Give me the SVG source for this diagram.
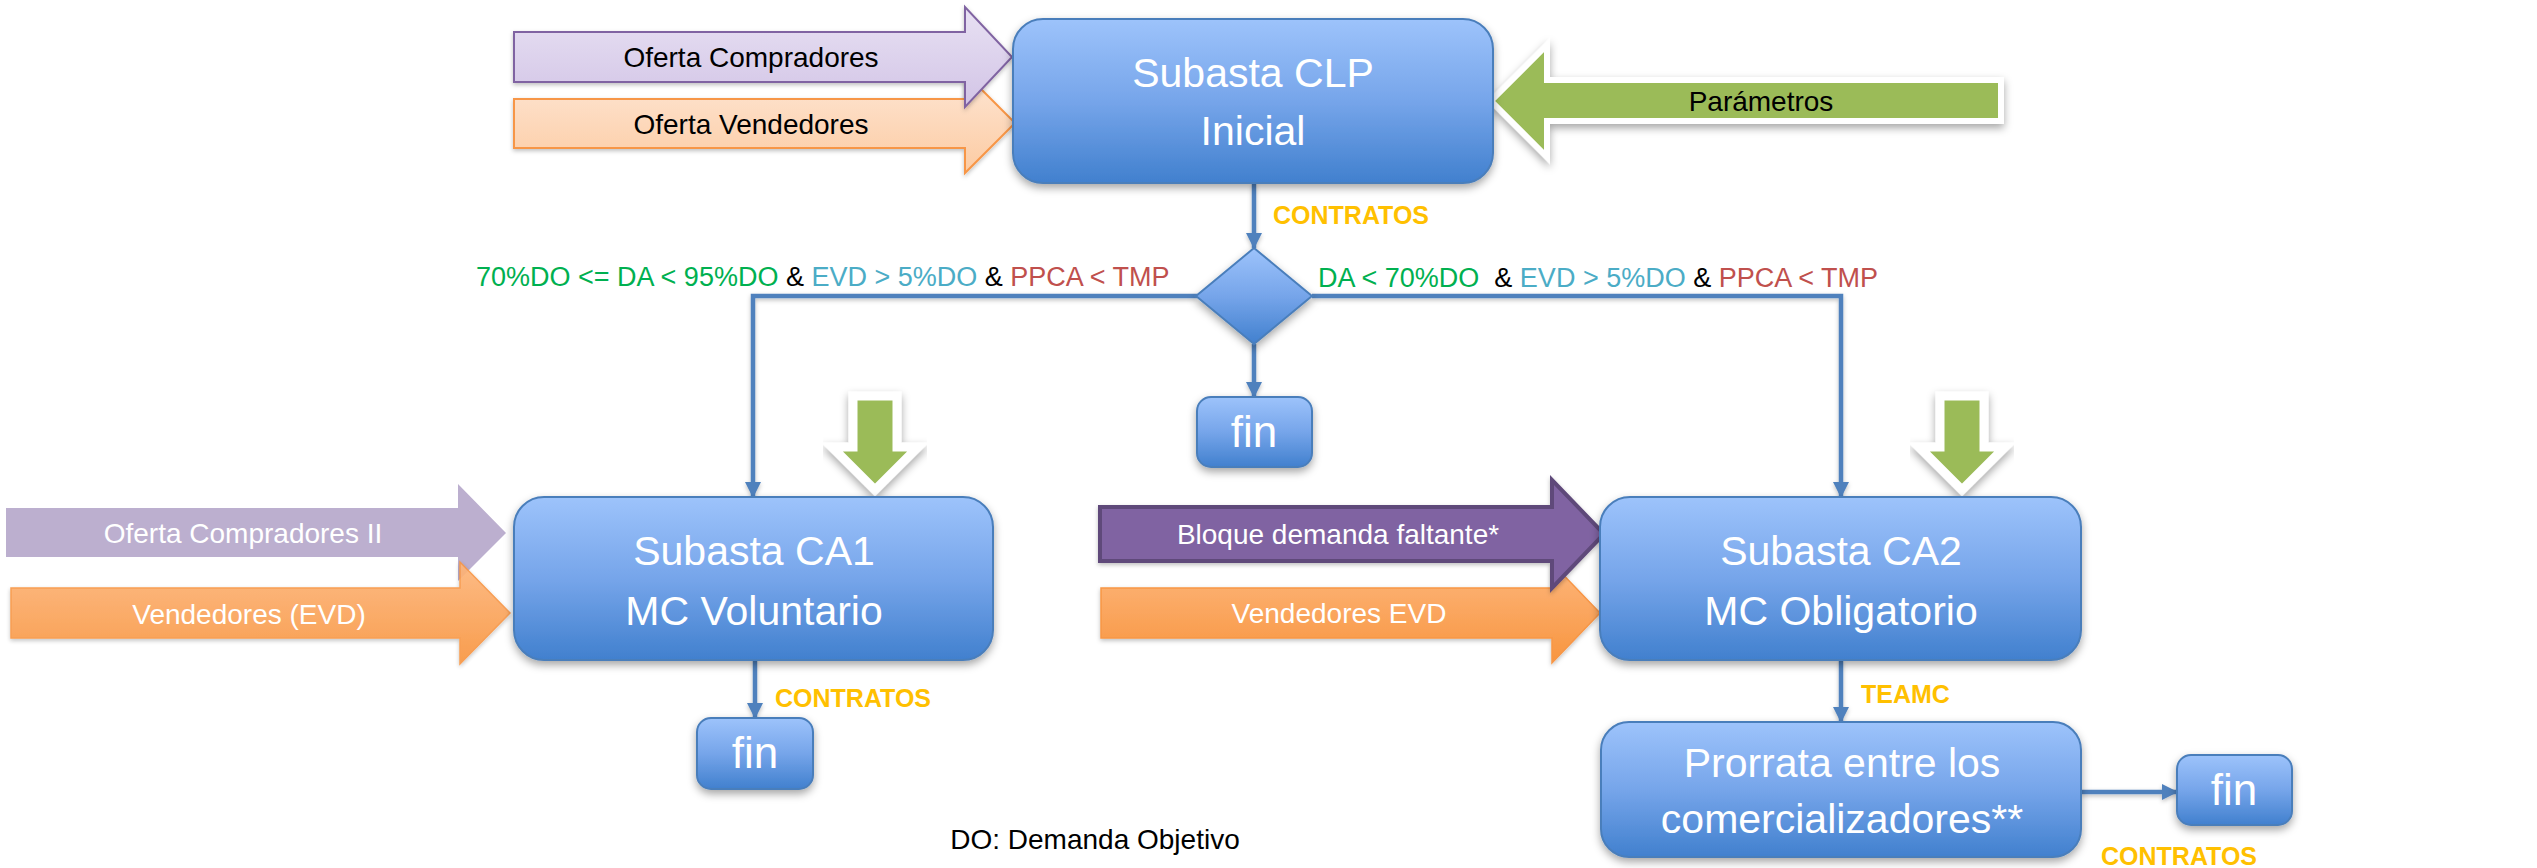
<svg xmlns="http://www.w3.org/2000/svg" width="2537" height="868" viewBox="0 0 2537 868">
<defs>
  <linearGradient id="boxGrad" x1="0" y1="0" x2="0" y2="1">
    <stop offset="0" stop-color="#9DC3FB"/>
    <stop offset="0.5" stop-color="#76A5EA"/>
    <stop offset="1" stop-color="#4180CE"/>
  </linearGradient>
  <linearGradient id="lavGrad" x1="0" y1="0" x2="0" y2="1">
    <stop offset="0" stop-color="#E8E1F3"/>
    <stop offset="1" stop-color="#D2C4E6"/>
  </linearGradient>
  <linearGradient id="peachGrad" x1="0" y1="0" x2="0" y2="1">
    <stop offset="0" stop-color="#FEE6D4"/>
    <stop offset="1" stop-color="#FCCBA2"/>
  </linearGradient>
  <linearGradient id="orangeGrad" x1="0" y1="0" x2="0" y2="1">
    <stop offset="0" stop-color="#FDB67C"/>
    <stop offset="1" stop-color="#F8953F"/>
  </linearGradient>
  <filter id="shadow" x="-10%" y="-20%" width="120%" height="150%">
    <feDropShadow dx="0" dy="4" stdDeviation="4" flood-color="#000" flood-opacity="0.35"/>
  </filter>
  <filter id="lshadow" filterUnits="userSpaceOnUse" x="0" y="0" width="2537" height="868">
    <feDropShadow dx="0" dy="2" stdDeviation="2" flood-color="#000" flood-opacity="0.25"/>
  </filter>
  <marker id="arr" viewBox="0 0 16 16" markerWidth="16" markerHeight="16" refX="15" refY="8" orient="auto" markerUnits="userSpaceOnUse">
    <path d="M0,0 L16,8 L0,16 Z" fill="#4F81BD"/>
  </marker>
  <style>
    text { font-family: "Liberation Sans", Arial, sans-serif; }
    .box { fill: url(#boxGrad); stroke: #4A7EBB; stroke-width: 2; filter: url(#shadow); }
    .btxt { fill: #FFFFFF; font-size: 41px; text-anchor: middle; }
    .fin { fill: #FFFFFF; font-size: 44px; text-anchor: middle; }
    .atxt { font-size: 28px; text-anchor: middle; }
    .wtxt { fill: #FFFFFF; }
    .ktxt { fill: #000000; }
    .lbl { fill: #FFC000; font-size: 25px; font-weight: bold; }
    .cond { font-size: 27px; white-space: pre; }
    .g { fill: #00B050; } .b { fill: #4BACC6; } .k { fill: #000000; } .r { fill: #C0504D; }
    .conn { fill: none; stroke: #4F81BD; stroke-width: 4.5; marker-end: url(#arr); filter: url(#lshadow); }
    .green { fill: #9BBB59; stroke: #FFFFFF; stroke-width: 9; stroke-linejoin: miter; filter: url(#shadow); }
  </style>
</defs>

<g id="connectors">
  <path class="conn" d="M1254,183 V248"/>
  <path class="conn" d="M1197,296 H753 V497"/>
  <path class="conn" d="M1312,296 H1841 V497"/>
  <path class="conn" d="M1254,344 V397"/>
  <path class="conn" d="M755,660 V718"/>
  <path class="conn" d="M1841,660 V722"/>
  <path class="conn" d="M2081,792 H2177"/>
</g>

<g id="in-oferta-vendedores">
  <path d="M514,99 H965 V73 L1015,123 L965,173 V148 H514 Z" fill="url(#peachGrad)" stroke="#F79646" stroke-width="2" filter="url(#lshadow)"/>
  <text class="atxt ktxt" x="751" y="134">Oferta Vendedores</text>
</g>
<g id="in-oferta-compradores">
  <path d="M514,32 H965 V7 L1012,57 L965,107 V82 H514 Z" fill="url(#lavGrad)" stroke="#8064A2" stroke-width="2" filter="url(#lshadow)"/>
  <text class="atxt ktxt" x="751" y="67">Oferta Compradores</text>
</g>
<g id="in-parametros">
  <path d="M2001,80 H1547 V45 L1491,101 L1547,157 V121 H2001 Z" fill="#9BBB59" stroke="#FFFFFF" stroke-width="6" filter="url(#shadow)"/>
  <text class="atxt ktxt" x="1761" y="111">Parámetros</text>
</g>

<g id="subasta-clp">
  <rect class="box" x="1013" y="19" width="480" height="164" rx="30"/>
  <text class="btxt" x="1253" y="87">Subasta CLP</text>
  <text class="btxt" x="1253" y="145">Inicial</text>
</g>

<g id="decision">
  <polygon points="1254,248 1312,296 1254,344 1196,296" fill="url(#boxGrad)" stroke="#4A7EBB" stroke-width="2" filter="url(#shadow)"/>
</g>
<g id="label-contratos-1">
  <text class="lbl" x="1273" y="224">CONTRATOS</text>
</g>
<g id="cond-left">
  <text class="cond" x="476" y="286"><tspan class="g">70%DO &lt;= DA &lt; 95%DO</tspan><tspan class="k"> &amp; </tspan><tspan class="b">EVD &gt; 5%DO</tspan><tspan class="k"> &amp; </tspan><tspan class="r">PPCA &lt; TMP</tspan></text>
</g>
<g id="cond-right">
  <text class="cond" x="1318" y="287"><tspan class="g">DA &lt; 70%DO  </tspan><tspan class="k">&amp; </tspan><tspan class="b">EVD &gt; 5%DO </tspan><tspan class="k">&amp; </tspan><tspan class="r">PPCA &lt; TMP</tspan></text>
</g>

<g id="fin-center">
  <rect class="box" x="1197" y="397" width="115" height="70" rx="14"/>
  <text class="fin" x="1254" y="447">fin</text>
</g>

<g id="green-ca1">
  <path class="green" d="M853,396 H897 V447 H918 L875,490 L832,447 H853 Z"/>
</g>
<g id="green-ca2">
  <path class="green" d="M1940,396 H1984 V447 H2005 L1962,490 L1919,447 H1940 Z"/>
</g>

<g id="in-oferta-compradores-ii">
  <path d="M6,508 H458 V484 L506,533 L458,581 V557 H6 Z" fill="#BCAFCF"/>
  <text class="atxt wtxt" x="243" y="543">Oferta Compradores II</text>
</g>
<g id="in-vendedores-evd-1">
  <path d="M11,588 H460 V562 L510,613 L460,664 V638 H11 Z" fill="url(#orangeGrad)" stroke="#F79646" stroke-width="1.5" opacity="0.92" filter="url(#lshadow)"/>
  <text class="atxt wtxt" x="249" y="624">Vendedores (EVD)</text>
</g>

<g id="subasta-ca1">
  <rect class="box" x="514" y="497" width="479" height="163" rx="30"/>
  <text class="btxt" x="754" y="565">Subasta CA1</text>
  <text class="btxt" x="754" y="625">MC Voluntario</text>
</g>

<g id="in-vendedores-evd-2">
  <path d="M1101,588 H1552 V563 L1600,613 L1552,663 V638 H1101 Z" fill="url(#orangeGrad)" stroke="#F79646" stroke-width="1.5" filter="url(#lshadow)"/>
  <text class="atxt wtxt" x="1339" y="623">Vendedores EVD</text>
</g>
<g id="in-bloque-demanda">
  <path d="M1100,507 H1552 V480 L1604,534 L1552,588 V561 H1100 Z" fill="#8064A2" stroke="#5F497A" stroke-width="4" filter="url(#lshadow)"/>
  <text class="atxt wtxt" x="1338" y="544">Bloque demanda faltante*</text>
</g>

<g id="subasta-ca2">
  <rect class="box" x="1600" y="497" width="481" height="163" rx="30"/>
  <text class="btxt" x="1841" y="565">Subasta CA2</text>
  <text class="btxt" x="1841" y="625">MC Obligatorio</text>
</g>

<g id="fin-ca1">
  <rect class="box" x="697" y="718" width="116" height="71" rx="14"/>
  <text class="fin" x="755" y="768">fin</text>
</g>
<g id="label-contratos-2">
  <text class="lbl" x="775" y="707">CONTRATOS</text>
</g>

<g id="label-teamc">
  <text class="lbl" x="1861" y="703">TEAMC</text>
</g>
<g id="prorrata">
  <rect class="box" x="1601" y="722" width="480" height="135" rx="28"/>
  <text class="btxt" x="1842" y="777">Prorrata entre los</text>
  <text class="btxt" x="1842" y="833">comercializadores**</text>
</g>

<g id="fin-prorrata">
  <rect class="box" x="2177" y="755" width="115" height="70" rx="14"/>
  <text class="fin" x="2234" y="805">fin</text>
</g>
<g id="label-contratos-3">
  <text class="lbl" x="2101" y="865">CONTRATOS</text>
</g>

<g id="legend">
  <text class="atxt ktxt" x="1095" y="849">DO: Demanda Objetivo</text>
</g>
</svg>
